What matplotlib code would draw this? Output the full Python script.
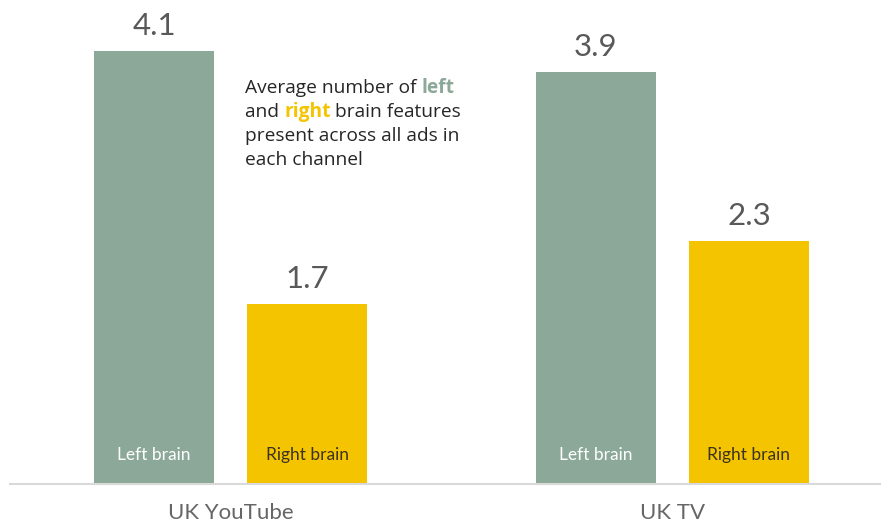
import matplotlib
matplotlib.use("Agg")
import matplotlib.pyplot as plt
import numpy as np

channels = ["UK YouTube", "UK TV"]
series_names = ["Left brain", "Right brain"]
left_values = [4.1, 3.9]
right_values = [1.7, 2.3]

GREEN = "#8BA898"
YELLOW = "#F5C400"
plt.rcParams['font.family'] = ['Lato', 'DejaVu Sans']

fig = plt.figure(figsize=(8.81, 5.24), dpi=100)
ax = fig.add_axes([10/881, 40/524, 870/881, 484/524])

x = np.arange(len(channels))
off = 0.1731
w = 0.2715
b1 = ax.bar(x - off, left_values, w, color=GREEN)
b2 = ax.bar(x + off, right_values, w, color=YELLOW)
ax.set_xlim(-0.4989, 1.4695)
ax.set_ylim(0, 484/105.6)

for bars, vals, name, tc in [(b1, left_values, series_names[0], "white"),
                              (b2, right_values, series_names[1], "#3b3320")]:
    for r, v in zip(bars, vals):
        cx = r.get_x() + r.get_width()/2
        ax.annotate(f"{v:.1f}", (cx, v), xytext=(0, 8), textcoords="offset points",
                    ha="center", va="bottom", fontsize=22.5, color="#595959")
        ax.annotate(name, (cx, 0), xytext=(0, 21), textcoords="offset points",
                    ha="center", va="center", fontsize=12.5, color=tc)

for i, c in enumerate(channels):
    ax.annotate(c, (i, 0), xytext=(0, -21), textcoords="offset points",
                ha="center", va="center", fontsize=16, color="#666666")

for s in ["top", "right", "left"]:
    ax.spines[s].set_visible(False)
ax.spines["bottom"].set_color("#d9d9d9")
ax.spines["bottom"].set_linewidth(1.5)
ax.set_xticks([])
ax.set_yticks([])

# annotation with coloured words
lines = [
    [("Average number of ", "#262626", "normal"), ("left", GREEN, "bold")],
    [("and ", "#262626", "normal"), ("right", YELLOW, "bold"), (" brain features", "#262626", "normal")],
    [("present across all ads in", "#262626", "normal")],
    [("each channel", "#262626", "normal")],
]
fig.canvas.draw()
renderer = fig.canvas.get_renderer()
x0 = 245
y0 = 524 - 88
for li, parts in enumerate(lines):
    xp = x0
    yp = y0 - li * 24
    for txt, col, wt in parts:
        t = fig.text(xp/881, yp/524, txt, fontsize=13.8, color=col, fontweight=wt,
                     family=['Open Sans', 'DejaVu Sans'], ha="left", va="center")
        bb = t.get_window_extent(renderer=renderer)
        xp += bb.width

fig.savefig("out.png", dpi=100)
